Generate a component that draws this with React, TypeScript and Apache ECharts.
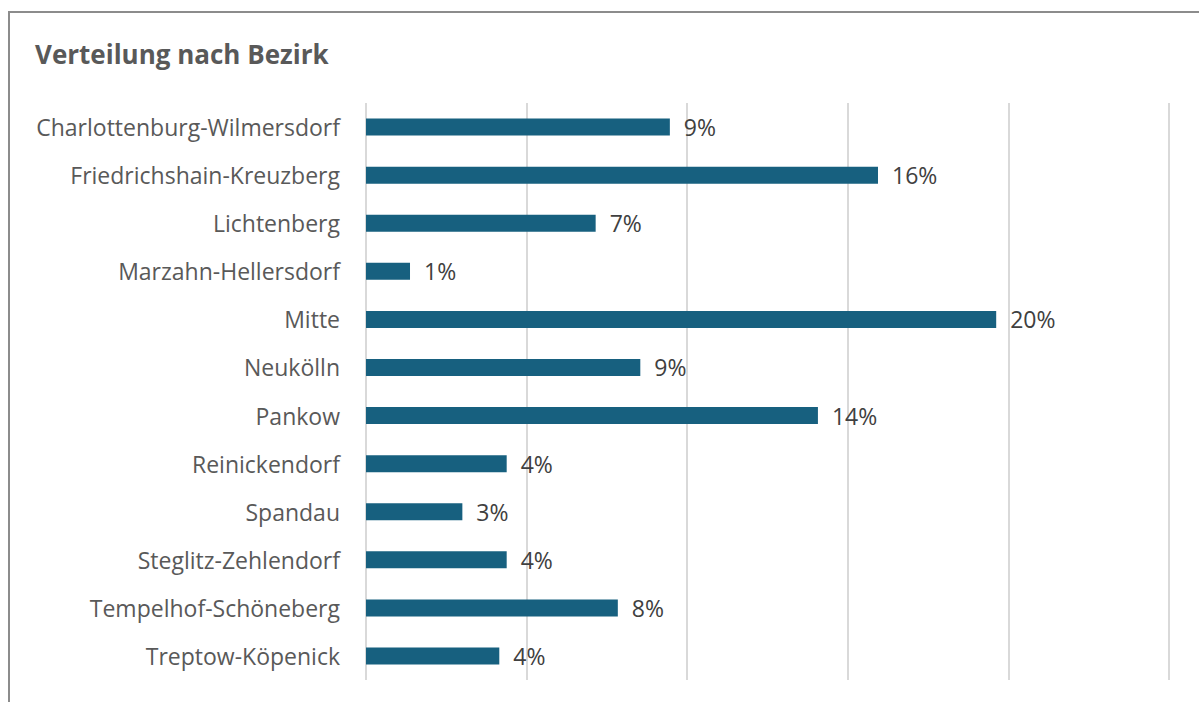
import React, { useEffect, useRef } from "react";
import * as echarts from "echarts";

const categories = [
  "Charlottenburg-Wilmersdorf",
  "Friedrichshain-Kreuzberg",
  "Lichtenberg",
  "Marzahn-Hellersdorf",
  "Mitte",
  "Neukölln",
  "Pankow",
  "Reinickendorf",
  "Spandau",
  "Steglitz-Zehlendorf",
  "Tempelhof-Schöneberg",
  "Treptow-Köpenick",
];

const shares = [
  0.0946, 0.1594, 0.0715, 0.0137, 0.1962, 0.0854, 0.1407, 0.0438, 0.03, 0.0438,
  0.0784, 0.0415,
];

const titleText = "Verteilung nach Bezirk";
const FONT = "'Open Sans', 'Noto Sans', sans-serif";

export default function App() {
  const ref = useRef<HTMLDivElement>(null);
  useEffect(() => {
    if (!ref.current) return;
    const chart = echarts.init(ref.current, undefined, { renderer: "svg" });
    chart.setOption({
      animation: false,
      backgroundColor: "#ffffff",
      textStyle: { fontFamily: FONT },
      title: {
        text: titleText,
        left: 30,
        top: 36,
        textStyle: {
          fontFamily: FONT,
          fontSize: 26,
          fontWeight: "bold",
          color: "#595959",
        },
      },
      graphic: [
        {
          type: "rect",
          shape: { x: 9, y: 12, width: 1250, height: 750 },
          style: { fill: "none", stroke: "#8c8c8c", lineWidth: 2 },
          silent: true,
          z: -1,
        },
      ],
      grid: { left: 366, right: 30, top: 103, bottom: 22, containLabel: false },
      xAxis: {
        type: "value",
        min: 0,
        max: 0.25,
        interval: 0.05,
        axisLabel: { show: false },
        axisLine: { show: false },
        axisTick: { show: false },
        splitLine: { show: true, lineStyle: { color: "#d9d9d9", width: 2 } },
      },
      yAxis: {
        type: "category",
        data: categories,
        inverse: true,
        axisLine: { show: false },
        axisTick: { show: false },
        axisLabel: {
          fontFamily: FONT,
          fontSize: 23,
          color: "#595959",
          margin: 26,
        },
      },
      series: [
        {
          type: "bar",
          data: shares,
          barWidth: 17,
          itemStyle: { color: "#17607f" },
          label: {
            show: true,
            position: "right",
            distance: 14,
            fontFamily: FONT,
            fontSize: 23,
            color: "#404040",
            formatter: (p: any) => Math.round(p.value * 100) + "%",
          },
        },
      ],
    });
    return () => chart.dispose();
  }, []);
  return (
    <div
      ref={ref}
      style={{ position: "fixed", left: 0, top: 0, width: 1199, height: 702 }}
    />
  );
}
